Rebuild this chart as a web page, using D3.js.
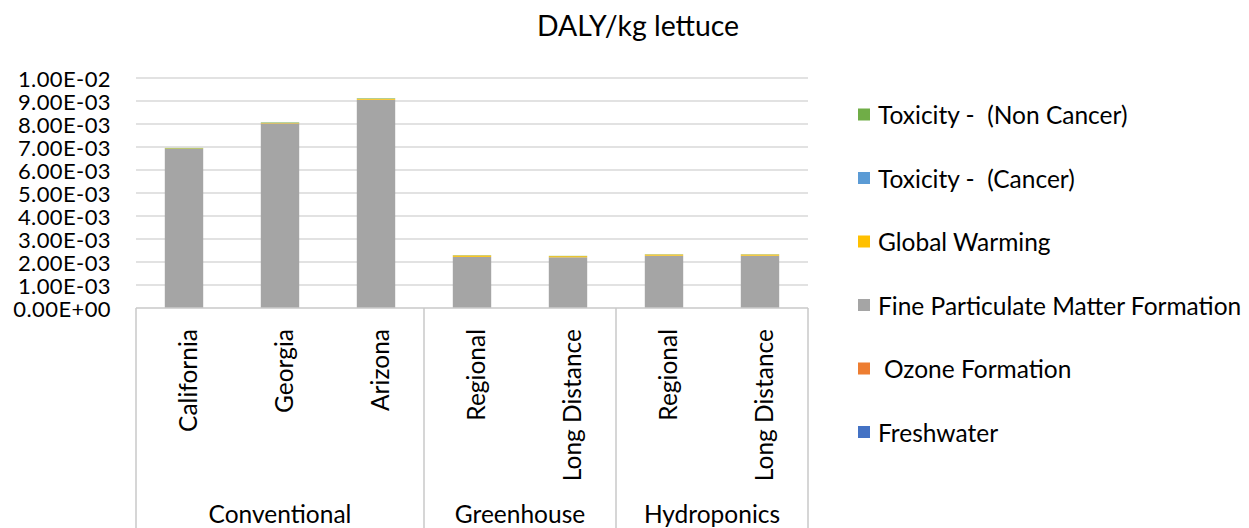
<!DOCTYPE html>
<html><head><meta charset="utf-8">
<script src="https://cdn.jsdelivr.net/npm/d3@7"></script>
<style>
html,body{margin:0;padding:0;background:#fff;}
svg text{font-family:Lato,"Open Sans",sans-serif;fill:#000;}
.leg text{white-space:pre;}
</style></head><body>
<svg id="c" width="1249" height="528"></svg>
<script>
const title = "DALY/kg lettuce";
const categories = ["California","Georgia","Arizona","Regional","Long Distance","Regional","Long Distance"];
const groups = ["Conventional","Conventional","Conventional","Greenhouse","Greenhouse","Hydroponics","Hydroponics"];
const groupNames = ["Conventional","Greenhouse","Hydroponics"];
const seriesNames = ["Freshwater","Ozone Formation","Fine Particulate Matter Formation","Global Warming","Toxicity -  (Cancer)","Toxicity -  (Non Cancer)"];
const freshwater   = [0.000002,0.000002,0.000002,0.000002,0.000002,0.000002,0.000002];
const ozone        = [0.000003,0.000003,0.000003,0.000002,0.000002,0.000002,0.000002];
const finePM       = [0.00691,0.00802,0.00905,0.00222,0.00220,0.00227,0.00227];
const globalWarm   = [0.00002,0.00002,0.00004,0.00006,0.00005,0.00005,0.00005];
const toxCancer    = [0.000004,0.000004,0.000004,0.000003,0.000003,0.000003,0.000003];
const toxNonCancer = [0.00002,0.00002,0.00002,0.00001,0.00001,0.00001,0.00001];
const yTicks = [0,0.001,0.002,0.003,0.004,0.005,0.006,0.007,0.008,0.009,0.01];
const yTickLabels = ["0.00E+00","1.00E-03","2.00E-03","3.00E-03","4.00E-03","5.00E-03","6.00E-03","7.00E-03","8.00E-03","9.00E-03","1.00E-02"];
const colors = ["#4472C4","#ED7D31","#A5A5A5","#FFC000","#5B9BD5","#70AD47"];

const svg = d3.select("#c");
const L = 136, R = 808, T = 78, B = 308;
const x = d3.scaleBand().domain(d3.range(categories.length)).range([L,R]).paddingInner(0.6).paddingOuter(0.3);
const xb = d3.scaleBand().domain(d3.range(categories.length)).range([L,R]);
const y = d3.scaleLinear().domain([0,0.01]).range([B,T]);

// title
svg.append("text").attr("x",638).attr("y",36).attr("text-anchor","middle")
  .attr("font-size",28.4).text(title);

// gridlines
svg.append("g").selectAll("line").data(yTicks.slice(1)).join("line")
  .attr("x1",L).attr("x2",R).attr("y1",d=>y(d)).attr("y2",d=>y(d))
  .attr("stroke","#d9d9d9").attr("stroke-width",1.5);

// y axis labels
const yAxis = d3.axisLeft(y).tickValues(yTicks).tickFormat((d,i)=>yTickLabels[i]).tickSize(0).tickPadding(0);
const ga = svg.append("g").attr("transform",`translate(111,0)`).call(yAxis);
ga.select(".domain").remove();
ga.selectAll("text").attr("font-size",22).attr("letter-spacing","0.4px")
  .attr("font-family","Lato,'Open Sans',sans-serif").attr("fill","#000").attr("dy","0.38em");

// stacked bars
const rows = categories.map((c,i)=>({i, s0:freshwater[i], s1:ozone[i], s2:finePM[i], s3:globalWarm[i], s4:toxCancer[i], s5:toxNonCancer[i]}));
const stack = d3.stack().keys(["s0","s1","s2","s3","s4","s5"])(rows);
svg.append("g").selectAll("g").data(stack).join("g").attr("fill",(d,i)=>colors[i])
  .selectAll("rect").data(d=>d).join("rect")
  .attr("x",d=>x(d.data.i)).attr("width",x.bandwidth())
  .attr("y",d=>y(d[1])).attr("height",d=>Math.max(0,y(d[0])-y(d[1])));

// category axis box
const axisColor = "#c8c8c8";
svg.append("line").attr("x1",L).attr("x2",R).attr("y1",B).attr("y2",B).attr("stroke",axisColor).attr("stroke-width",1.5);
const groupBounds = groupNames.map(g=>{
  const idx = groups.map((v,i)=>v===g?i:-1).filter(i=>i>=0);
  return {g, x0: xb(idx[0]), x1: xb(idx[idx.length-1])+xb.bandwidth()};
});
const seps = [L].concat(groupBounds.map(b=>b.x1));
svg.append("g").selectAll("line").data(seps).join("line")
  .attr("x1",d=>d).attr("x2",d=>d).attr("y1",B).attr("y2",528)
  .attr("stroke",axisColor).attr("stroke-width",1.5);

// category labels (rotated)
svg.append("g").selectAll("text").data(categories).join("text")
  .attr("transform",(d,i)=>`translate(${xb(i)+xb.bandwidth()/2+3},329) rotate(-90)`)
  .attr("text-anchor","end").attr("dominant-baseline","central")
  .attr("font-size",24.5).text(d=>d);

// group labels
svg.append("g").selectAll("text").data(groupBounds).join("text")
  .attr("x",d=>(d.x0+d.x1)/2).attr("y",523).attr("text-anchor","middle")
  .attr("font-size",24.5).text(d=>d.g);

// legend
const legendOrder = d3.range(seriesNames.length).reverse();
const lg = svg.append("g").attr("class","leg").selectAll("g").data(legendOrder).join("g")
  .attr("transform",(d,k)=>`translate(858,${114.5+k*63.5})`);
lg.append("rect").attr("x",0).attr("y",-6).attr("width",12).attr("height",12).attr("fill",d=>colors[d]);
lg.append("text").attr("x",d=>seriesNames[d]==="Ozone Formation"?26:20).attr("y",0).attr("dominant-baseline","central")
  .attr("font-size",24.5).text(d=>seriesNames[d]);
</script></body></html>
